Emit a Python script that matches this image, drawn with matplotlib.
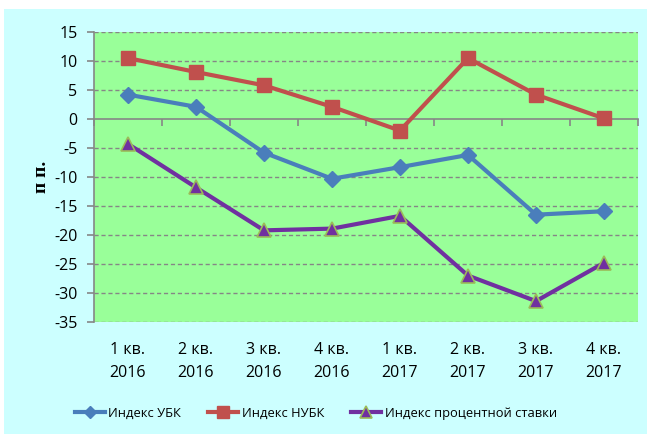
import numpy as np
import matplotlib.pyplot as plt
from matplotlib.patches import Rectangle

# Data
quarters = ['1 кв.', '2 кв.', '3 кв.', '4 кв.', '1 кв.', '2 кв.', '3 кв.', '4 кв.']
years = ['2016', '2016', '2016', '2016', '2017', '2017', '2017', '2017']
ubk = [4.2, 2.1, -5.8, -10.3, -8.3, -6.2, -16.5, -15.9]
nubk = [10.5, 8.1, 5.8, 2.1, -2.0, 10.5, 4.2, 0.1]
rate = [-4.3, -11.8, -19.2, -18.9, -16.7, -27.0, -31.4, -24.8]
y_ticks = [15, 10, 5, 0, -5, -10, -15, -20, -25, -30, -35]

plt.rcParams['font.family'] = ['Open Sans', 'DejaVu Sans']

fig = plt.figure(figsize=(6.47, 4.34), dpi=100)
fig.patch.set_facecolor('white')
# cyan chart area (white strip at top and left)
fig.patches.append(Rectangle((4 / 647, 0), 1, (434 - 9) / 434,
                             transform=fig.transFigure, facecolor='#ccffff',
                             edgecolor='none', zorder=-10))

ax = fig.add_axes([94 / 647, (434 - 322) / 434, 544 / 647, 290 / 434])
ax.set_facecolor('#99ff99')

x = np.arange(len(quarters))

ax.plot(x, ubk, color='#4a7ebb', lw=3, marker='D', ms=8,
        mfc='#4a7ebb', mec='#4a7ebb', label='Индекс УБК', zorder=3)
ax.plot(x, nubk, color='#c0504d', lw=3, marker='s', ms=10,
        mfc='#c0504d', mec='#c0504d', label='Индекс НУБК', zorder=3)
ax.plot(x, rate, color='#7030a0', lw=3, marker='^', ms=10,
        mfc='#7030a0', mec='#9bbb59', mew=1.2,
        label='Индекс процентной ставки', zorder=3)

ax.set_xlim(-0.5, len(quarters) - 0.5)
ax.set_ylim(-35, 15)
ax.set_yticks(y_ticks)
ax.set_yticklabels([str(v) for v in y_ticks], fontsize=11.5)

# dashed grid lines, solid zero line acting as x axis
for v in y_ticks:
    if v != 0:
        ax.axhline(v, color='#868686', lw=1, ls=(0, (3, 2)), zorder=1)

for s in ['top', 'right']:
    ax.spines[s].set_visible(False)
ax.spines['left'].set_color('#868686')
ax.spines['left'].set_linewidth(1.2)
ax.spines['bottom'].set_position(('data', 0))
ax.spines['bottom'].set_color('#868686')
ax.spines['bottom'].set_linewidth(1.2)

ax.set_xticks(np.arange(-0.5, len(quarters)))
ax.set_xticklabels([])
ax.tick_params(axis='x', direction='out', length=5, color='#868686', width=1.2)
ax.tick_params(axis='y', direction='out', length=5, color='#868686', width=1.2,
               pad=7)

for i in range(len(quarters)):
    ax.text(i, -0.095, quarters[i], transform=ax.get_xaxis_transform(),
            ha='center', va='center', fontsize=11.5)
    ax.text(i, -0.177, years[i], transform=ax.get_xaxis_transform(),
            ha='center', va='center', fontsize=11.5)

fig.text(41 / 647, 1 - 177 / 434, 'п п.', rotation=90, ha='center', va='center',
         fontsize=14, fontweight='bold', family='Liberation Serif')

fig.legend(loc='center', bbox_to_anchor=(316 / 647, 1 - 413 / 434), ncol=3,
           frameon=False, fontsize=9.3, handlelength=2.3, columnspacing=2.1,
           handletextpad=0.3, markerscale=0.8)

fig.savefig('out.png', dpi=100)
